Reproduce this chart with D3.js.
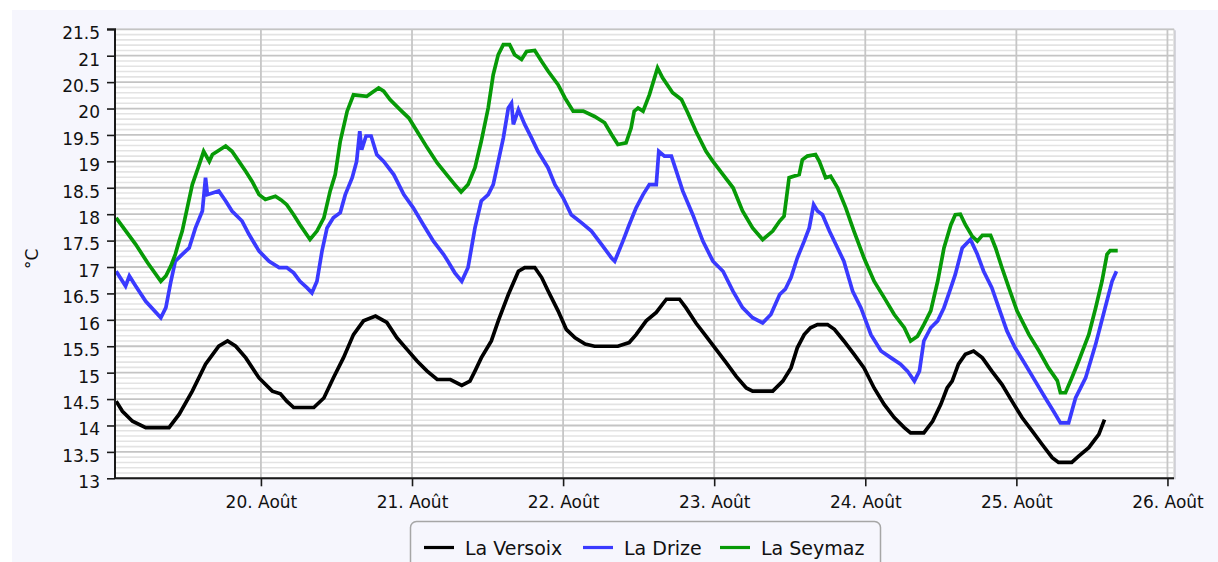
<!DOCTYPE html>
<html>
<head>
<meta charset="utf-8">
<script src="https://cdn.jsdelivr.net/npm/d3@7"></script>
<style>
  body { margin: 0; background: #ffffff; }
  svg { display: block; font-family: "DejaVu Sans", Verdana, sans-serif; }
</style>
</head>
<body>
<svg id="chart" width="1218" height="562"></svg>
<script>
// Water temperature of three Geneva rivers, 19–26 August (°C)
const seriesNames = ["La Versoix", "La Drize", "La Seymaz"];
const seriesColors = ["#000000", "#3a3aff", "#079a07"];

const dayTicks = [20, 21, 22, 23, 24, 25, 26];
const dayLabels = ["20. Août", "21. Août", "22. Août", "23. Août", "24. Août", "25. Août", "26. Août"];
const tempTicks = [13, 13.5, 14, 14.5, 15, 15.5, 16, 16.5, 17, 17.5, 18, 18.5, 19, 19.5, 20, 20.5, 21, 21.5];

// Times are hours after 19 August 00:00
const versoixHours = [1.0, 2.0, 3.6, 5.7, 9.4, 11.0, 13.1, 15.2, 17.3, 18.7, 20.0, 21.6, 23.7, 25.8, 27.1, 28.1, 29.2, 32.4, 34.0, 35.5, 37.1, 38.7, 40.3, 42.2, 44.0, 45.6, 47.2, 48.8, 50.4, 52.0, 54.1, 55.9, 57.2, 58.0, 59.0, 60.6, 61.7, 63.3, 64.9, 65.9, 67.5, 68.6, 69.6, 71.2, 72.5, 73.9, 75.5, 77.0, 80.7, 82.5, 83.6, 85.2, 86.8, 88.4, 90.5, 91.5, 93.1, 94.7, 96.3, 97.9, 99.5, 101.1, 102.1, 105.3, 106.9, 108.2, 109.2, 110.3, 111.3, 112.4, 114.0, 115.1, 116.6, 118.2, 119.8, 121.4, 123.0, 124.6, 126.2, 127.2, 129.3, 130.7, 132.0, 133.0, 133.8, 134.8, 135.9, 137.2, 138.6, 140.1, 141.7, 143.3, 144.9, 146.5, 148.1, 149.7, 150.7, 152.8, 153.9, 155.5, 157.1, 158.0];
const versoixTemps = [14.46, 14.27, 14.08, 13.96, 13.96, 14.21, 14.65, 15.16, 15.50, 15.60, 15.50, 15.28, 14.90, 14.65, 14.60, 14.46, 14.34, 14.34, 14.52, 14.90, 15.28, 15.72, 15.98, 16.07, 15.95, 15.66, 15.44, 15.22, 15.03, 14.87, 14.87, 14.76, 14.84, 15.03, 15.28, 15.60, 15.98, 16.48, 16.92, 16.99, 16.99, 16.80, 16.55, 16.17, 15.82, 15.66, 15.54, 15.50, 15.50, 15.57, 15.72, 15.98, 16.14, 16.39, 16.39, 16.23, 15.94, 15.69, 15.44, 15.19, 14.93, 14.71, 14.65, 14.65, 14.84, 15.09, 15.47, 15.72, 15.85, 15.91, 15.91, 15.82, 15.60, 15.35, 15.09, 14.71, 14.40, 14.15, 13.96, 13.86, 13.86, 14.08, 14.40, 14.71, 14.84, 15.16, 15.35, 15.41, 15.28, 15.03, 14.78, 14.46, 14.15, 13.90, 13.64, 13.39, 13.30, 13.30, 13.42, 13.58, 13.83, 14.11];

const drizeHours = [1.0, 2.5, 3.1, 4.1, 5.7, 8.1, 8.9, 9.7, 10.4, 11.5, 12.6, 13.6, 14.7, 15.2, 15.5, 17.3, 18.4, 19.4, 21.0, 22.1, 23.7, 25.3, 26.9, 28.1, 29.2, 30.2, 31.3, 32.1, 32.9, 33.7, 34.5, 35.5, 36.6, 37.4, 38.5, 39.2, 39.7, 40.0, 40.7, 41.5, 42.4, 43.5, 45.1, 46.7, 48.2, 49.8, 51.4, 53.0, 53.7, 54.8, 55.9, 56.9, 58.0, 59.0, 60.1, 60.9, 61.7, 62.5, 63.3, 63.8, 64.1, 64.9, 65.9, 67.0, 68.0, 69.6, 70.7, 72.0, 73.3, 74.9, 76.5, 78.1, 79.7, 80.2, 81.5, 82.5, 83.6, 84.7, 85.7, 86.8, 87.2, 88.1, 89.2, 90.0, 91.0, 92.6, 94.2, 95.8, 97.4, 99.0, 100.5, 102.1, 103.7, 105.0, 106.4, 107.3, 108.2, 109.2, 110.3, 111.1, 111.8, 112.4, 113.2, 114.3, 115.6, 116.6, 118.0, 119.3, 120.9, 122.5, 124.1, 125.6, 126.7, 127.8, 128.6, 129.3, 130.4, 131.5, 132.5, 133.6, 134.3, 135.4, 136.7, 137.8, 138.8, 140.1, 141.2, 142.5, 143.8, 145.4, 147.0, 148.6, 149.9, 151.0, 152.3, 153.4, 155.0, 156.6, 158.1, 159.2, 159.9];
const drizeTemps = [16.92, 16.64, 16.83, 16.64, 16.35, 16.04, 16.23, 16.73, 17.11, 17.24, 17.36, 17.74, 18.06, 18.69, 18.37, 18.44, 18.25, 18.06, 17.87, 17.62, 17.30, 17.11, 16.99, 16.99, 16.89, 16.73, 16.61, 16.51, 16.73, 17.30, 17.74, 17.93, 18.03, 18.37, 18.69, 19.00, 19.57, 19.22, 19.48, 19.48, 19.13, 19.00, 18.75, 18.37, 18.12, 17.80, 17.49, 17.24, 17.11, 16.89, 16.73, 16.99, 17.74, 18.25, 18.37, 18.56, 19.00, 19.44, 20.01, 20.10, 19.70, 19.98, 19.70, 19.44, 19.19, 18.88, 18.56, 18.31, 17.99, 17.84, 17.68, 17.43, 17.17, 17.11, 17.49, 17.80, 18.12, 18.37, 18.56, 18.56, 19.19, 19.10, 19.10, 18.81, 18.44, 17.99, 17.49, 17.11, 16.92, 16.54, 16.23, 16.04, 15.94, 16.10, 16.48, 16.58, 16.80, 17.17, 17.49, 17.74, 18.18, 18.06, 17.99, 17.68, 17.36, 17.11, 16.54, 16.23, 15.72, 15.41, 15.28, 15.16, 15.03, 14.84, 15.03, 15.60, 15.85, 15.98, 16.23, 16.61, 16.86, 17.36, 17.52, 17.24, 16.92, 16.61, 16.23, 15.79, 15.47, 15.16, 14.84, 14.52, 14.27, 14.05, 14.05, 14.52, 14.90, 15.54, 16.23, 16.73, 16.92];

const seymazHours = [1.0, 4.1, 6.0, 8.1, 8.9, 9.7, 10.4, 11.0, 11.5, 13.1, 14.2, 14.9, 15.8, 16.3, 18.4, 19.4, 20.5, 21.6, 22.6, 23.7, 24.7, 26.3, 27.2, 28.1, 29.2, 30.2, 31.8, 32.9, 34.0, 35.0, 35.8, 36.6, 37.7, 38.7, 40.8, 41.6, 42.7, 43.5, 44.5, 46.1, 47.5, 48.8, 50.4, 52.0, 53.5, 54.8, 55.8, 56.9, 58.0, 59.0, 60.1, 60.9, 61.7, 62.5, 63.5, 64.3, 65.4, 66.2, 67.5, 68.6, 69.6, 71.2, 72.3, 73.6, 75.2, 77.0, 78.6, 79.7, 80.7, 82.0, 82.8, 83.3, 83.9, 84.7, 85.7, 87.0, 87.8, 89.4, 90.8, 91.8, 93.1, 94.7, 95.8, 97.4, 99.0, 100.5, 102.1, 103.7, 105.3, 106.4, 107.1, 107.9, 109.5, 110.0, 110.8, 112.1, 112.7, 113.7, 114.5, 115.6, 116.9, 118.2, 119.8, 121.4, 123.0, 124.6, 126.2, 127.2, 128.3, 129.3, 130.4, 131.5, 132.5, 133.6, 134.3, 135.1, 135.9, 137.0, 137.8, 138.6, 139.9, 140.7, 141.7, 142.8, 144.1, 146.0, 147.6, 149.1, 150.5, 151.0, 151.8, 152.8, 153.9, 155.5, 156.6, 157.6, 158.4, 158.9, 160.1];
const seymazTemps = [17.93, 17.43, 17.08, 16.73, 16.83, 17.02, 17.24, 17.49, 17.68, 18.56, 18.94, 19.19, 19.00, 19.13, 19.29, 19.19, 19.00, 18.81, 18.62, 18.37, 18.28, 18.34, 18.27, 18.18, 17.99, 17.80, 17.52, 17.68, 17.93, 18.44, 18.75, 19.38, 19.95, 20.26, 20.23, 20.30, 20.39, 20.33, 20.17, 19.98, 19.82, 19.57, 19.26, 18.97, 18.75, 18.56, 18.42, 18.56, 18.88, 19.38, 20.01, 20.64, 21.02, 21.21, 21.21, 21.02, 20.93, 21.08, 21.10, 20.89, 20.71, 20.45, 20.20, 19.95, 19.95, 19.85, 19.73, 19.51, 19.32, 19.35, 19.63, 19.95, 20.01, 19.95, 20.26, 20.77, 20.58, 20.30, 20.17, 19.92, 19.57, 19.19, 19.00, 18.75, 18.50, 18.06, 17.74, 17.52, 17.68, 17.87, 17.96, 18.69, 18.75, 19.03, 19.10, 19.13, 19.00, 18.69, 18.72, 18.50, 18.12, 17.68, 17.17, 16.73, 16.42, 16.10, 15.85, 15.60, 15.69, 15.91, 16.17, 16.73, 17.36, 17.80, 17.99, 18.00, 17.80, 17.58, 17.49, 17.60, 17.60, 17.36, 16.99, 16.61, 16.17, 15.72, 15.41, 15.09, 14.85, 14.62, 14.62, 14.90, 15.22, 15.72, 16.23, 16.73, 17.24, 17.31, 17.31];

const seriesHours = [versoixHours, drizeHours, seymazHours];
const seriesTemps = [versoixTemps, drizeTemps, seymazTemps];

// ---- layout ----
const W = 1218, H = 562;
const plot = { left: 115, right: 1174, top: 29.3, bottom: 478.3 };
const base = Date.UTC(2015, 7, 19, 0, 0);
const atHour = h => new Date(base + h * 3600e3);
const atDay = d => atHour((d - 19) * 24);

const svg = d3.select("#chart");

// chart background
svg.append("rect").attr("x", 0).attr("y", 0).attr("width", W).attr("height", H).attr("fill", "#ffffff");
svg.append("rect").attr("x", 12).attr("y", 10).attr("width", W - 12).attr("height", H - 10).attr("fill", "#f6f6fd");

const x = d3.scaleUtc()
  .domain([atHour(0.82), atHour(169.04)])
  .range([plot.left, plot.right]);
const y = d3.scaleLinear()
  .domain([13, 21.5])
  .range([plot.bottom, plot.top]);

// plot panel with soft shadow
svg.append("rect")
  .attr("x", plot.left + 2).attr("y", plot.top + 1)
  .attr("width", plot.right - plot.left).attr("height", plot.bottom - plot.top)
  .attr("fill", "#d6d6de");
svg.append("rect")
  .attr("x", plot.left).attr("y", plot.top)
  .attr("width", plot.right - plot.left).attr("height", plot.bottom - plot.top)
  .attr("fill", "#ffffff").attr("stroke", "#c9c9c9").attr("stroke-width", 1);

// minor horizontal grid every 0.1 °C
const minorTicks = d3.range(130, 216, 1).map(v => v / 10).filter(v => Math.round(v * 10) % 5 !== 0);
svg.append("g").selectAll("line").data(minorTicks).join("line")
  .attr("x1", plot.left).attr("x2", plot.right)
  .attr("y1", d => y(d)).attr("y2", d => y(d))
  .attr("stroke", "#e3e3e3").attr("stroke-width", 1.6);

// major horizontal grid
svg.append("g").selectAll("line").data(tempTicks).join("line")
  .attr("x1", plot.left).attr("x2", plot.right)
  .attr("y1", d => y(d)).attr("y2", d => y(d))
  .attr("stroke", "#c4c4c4").attr("stroke-width", 1.8);

// vertical day grid
svg.append("g").selectAll("line").data(dayTicks).join("line")
  .attr("x1", d => x(atDay(d))).attr("x2", d => x(atDay(d)))
  .attr("y1", plot.top).attr("y2", plot.bottom)
  .attr("stroke", "#c6c6c6").attr("stroke-width", 1.8);

// series
svg.append("clipPath").attr("id", "plot-clip").append("rect")
  .attr("x", plot.left).attr("y", plot.top)
  .attr("width", plot.right - plot.left).attr("height", plot.bottom - plot.top);

const line = d3.line().x(d => x(atHour(d[0]))).y(d => y(d[1]));
const linesG = svg.append("g").attr("clip-path", "url(#plot-clip)");
seriesNames.forEach((name, i) => {
  const pts = seriesHours[i].map((h, k) => [h, seriesTemps[i][k]]);
  linesG.append("path")
    .datum(pts)
    .attr("d", line)
    .attr("fill", "none")
    .attr("stroke", seriesColors[i])
    .attr("stroke-width", 3.7)
    .attr("stroke-linejoin", "miter");
});

// axes
const yAxis = d3.axisLeft(y)
  .tickValues(tempTicks)
  .tickSize(8).tickPadding(7)
  .tickFormat(d => String(d));
const gy = svg.append("g").attr("transform", `translate(${plot.left},0)`).call(yAxis);
gy.select(".domain").attr("stroke", "#1a1a1a").attr("stroke-width", 2).attr("d", `M-8,${plot.top}H0V${plot.bottom}`);
gy.selectAll(".tick line").attr("stroke", "#1a1a1a").attr("stroke-width", 1.6);
gy.selectAll(".tick text")
  .attr("font-family", "DejaVu Sans, Verdana, sans-serif")
  .attr("font-size", 17).attr("fill", "#111111").attr("dy", "0.55em");

const xAxis = d3.axisBottom(x)
  .tickValues(dayTicks.map(atDay))
  .tickSize(8).tickPadding(6)
  .tickFormat((d, i) => dayLabels[i]);
const gx = svg.append("g").attr("transform", `translate(0,${plot.bottom})`).call(xAxis);
gx.select(".domain").attr("stroke", "#1a1a1a").attr("stroke-width", 2).attr("d", `M${plot.left},0H${plot.right}`);
gx.selectAll(".tick line").attr("stroke", "#1a1a1a").attr("stroke-width", 1.6);
gx.selectAll(".tick text")
  .attr("font-family", "DejaVu Sans, Verdana, sans-serif")
  .attr("font-size", 17).attr("fill", "#111111").attr("dy", "0.9em");

// y axis title
svg.append("text")
  .attr("transform", `translate(38,${(plot.top + plot.bottom) / 2 + 5}) rotate(-90)`)
  .attr("text-anchor", "middle")
  .attr("font-size", 17).attr("fill", "#111111")
  .text("°C");

// legend
const legend = svg.append("g");
legend.append("rect")
  .attr("x", 410.5).attr("y", 521.5).attr("width", 470).attr("height", 70)
  .attr("rx", 6).attr("fill", "#f6f6fd").attr("stroke", "#a6a6a6").attr("stroke-width", 1.5);
const legendX = [424, 583, 720];
seriesNames.forEach((name, i) => {
  legend.append("line")
    .attr("x1", legendX[i]).attr("x2", legendX[i] + 30)
    .attr("y1", 547.5).attr("y2", 547.5)
    .attr("stroke", seriesColors[i]).attr("stroke-width", 3.2);
  legend.append("text")
    .attr("x", legendX[i] + 41).attr("y", 554.5)
    .attr("font-size", 19).attr("fill", "#111111")
    .text(name);
});
</script>
</body>
</html>
